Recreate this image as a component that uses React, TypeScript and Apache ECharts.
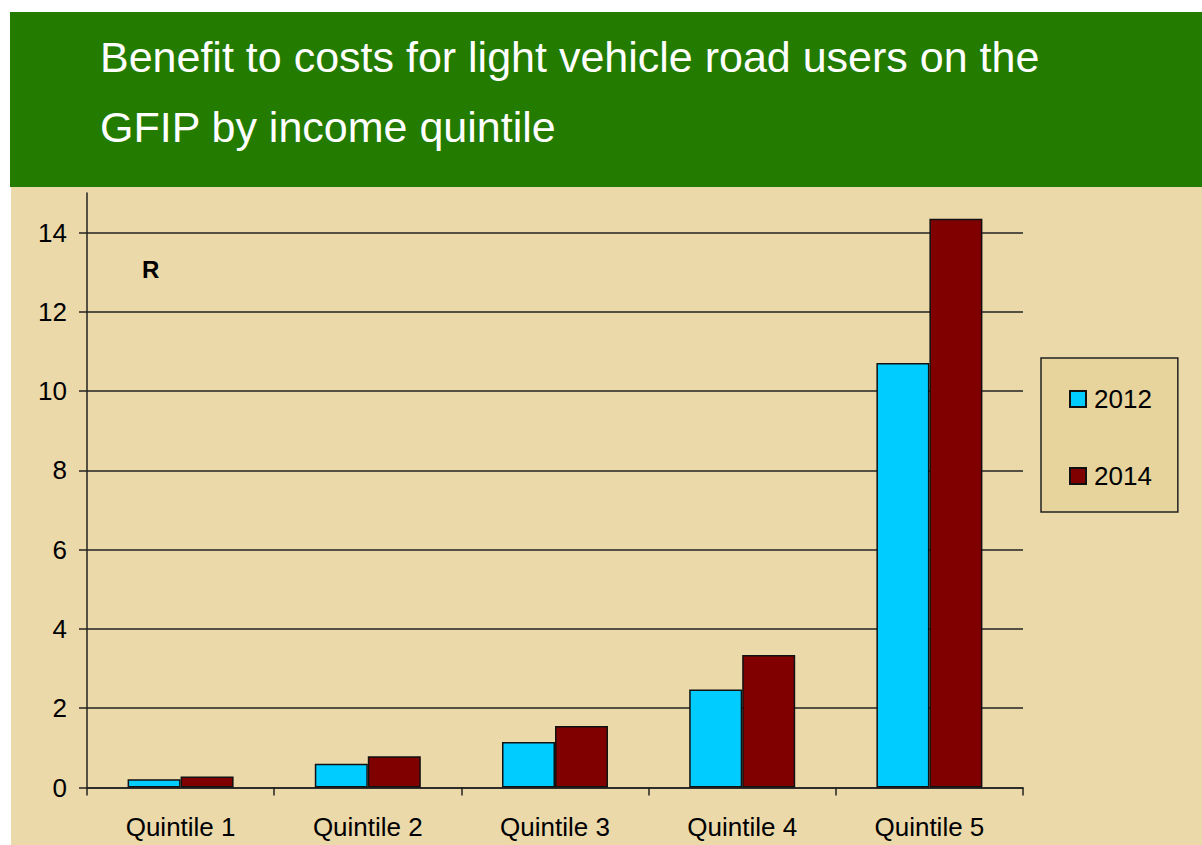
import React, { useEffect, useRef } from "react";
import * as echarts from "echarts";

const categories = ["Quintile 1", "Quintile 2", "Quintile 3", "Quintile 4", "Quintile 5"];
const values2012 = [0.21, 0.6, 1.15, 2.47, 10.71];
const values2014 = [0.28, 0.79, 1.55, 3.34, 14.35];
const seriesNames = ["2012", "2014"];
const yTicks = [0, 2, 4, 6, 8, 10, 12, 14];
const titleLines = ["Benefit to costs for light vehicle road users on the", "GFIP by income quintile"];
const unitLabel = "R";

const FONT = "'Liberation Sans', Arial, Helvetica, sans-serif";

export default function App() {
  const ref = useRef<HTMLDivElement>(null);
  useEffect(() => {
    if (!ref.current) return;
    const chart = echarts.init(ref.current, null, { renderer: "svg" });
    chart.setOption({
      animation: false,
      backgroundColor: "#ffffff",
      textStyle: { fontFamily: FONT },
      graphic: [
        { type: "rect", z: -10, shape: { x: 10, y: 12, width: 1192, height: 175 }, style: { fill: "#237c00" } },
        { type: "rect", z: -10, shape: { x: 11, y: 187, width: 1191, height: 658 }, style: { fill: "#ebd9aa" } },
        {
          type: "text", x: 100, y: 57,
          style: { text: titleLines[0], fill: "#ffffff", font: `43px ${FONT}`, textAlign: "left", textVerticalAlign: "middle" },
        },
        {
          type: "text", x: 100, y: 127,
          style: { text: titleLines[1], fill: "#ffffff", font: `43px ${FONT}`, textAlign: "left", textVerticalAlign: "middle" },
        },
        {
          type: "text", x: 142, y: 269, z: 5,
          style: { text: unitLabel, fill: "#000000", font: `bold 24px ${FONT}`, textAlign: "left", textVerticalAlign: "middle" },
        },
      ],
      legend: {
        orient: "vertical",
        left: 1041,
        top: 358,
        padding: [28, 26, 23, 28],
        itemGap: 51,
        itemWidth: 16,
        itemHeight: 16,
        icon: "rect",
        backgroundColor: "#e7d49d",
        borderColor: "#222222",
        borderWidth: 1.5,
        textStyle: { fontSize: 26, color: "#000000", fontFamily: FONT, padding: [0, 0, 0, 3] },
        data: seriesNames,
      },
      grid: { left: 87, right: 179, top: 193, bottom: 57.5, containLabel: false },
      xAxis: {
        type: "category",
        data: categories,
        boundaryGap: true,
        axisLine: { show: true, lineStyle: { color: "#222222", width: 1.5 } },
        axisTick: { show: true, length: 8, inside: false, lineStyle: { color: "#222222", width: 1.5 } },
        axisLabel: { fontSize: 26, color: "#000000", margin: 26, fontFamily: FONT },
        splitLine: { show: false },
      },
      yAxis: {
        type: "value",
        min: 0,
        max: 15,
        interval: 2,
        axisLine: { show: true, lineStyle: { color: "#222222", width: 1.5 } },
        axisTick: { show: true, length: 8, inside: false, customValues: yTicks, lineStyle: { color: "#222222", width: 1.5 } },
        axisLabel: { fontSize: 26, color: "#000000", margin: 20, customValues: yTicks, fontFamily: FONT },
        splitLine: { show: true, lineStyle: { color: "#222222", width: 1.5 } },
      },
      series: [
        {
          name: seriesNames[0],
          type: "bar",
          data: values2012,
          barWidth: 53,
          barGap: "0%",
          itemStyle: { color: "#00ccff", borderColor: "#111111", borderWidth: 1.5 },
        },
        {
          name: seriesNames[1],
          type: "bar",
          data: values2014,
          barWidth: 53,
          barGap: "0%",
          itemStyle: { color: "#800000", borderColor: "#111111", borderWidth: 1.5 },
        },
      ],
    });
    return () => chart.dispose();
  }, []);
  return <div ref={ref} style={{ position: "fixed", left: 0, top: 0, width: 1202, height: 845 }} />;
}
